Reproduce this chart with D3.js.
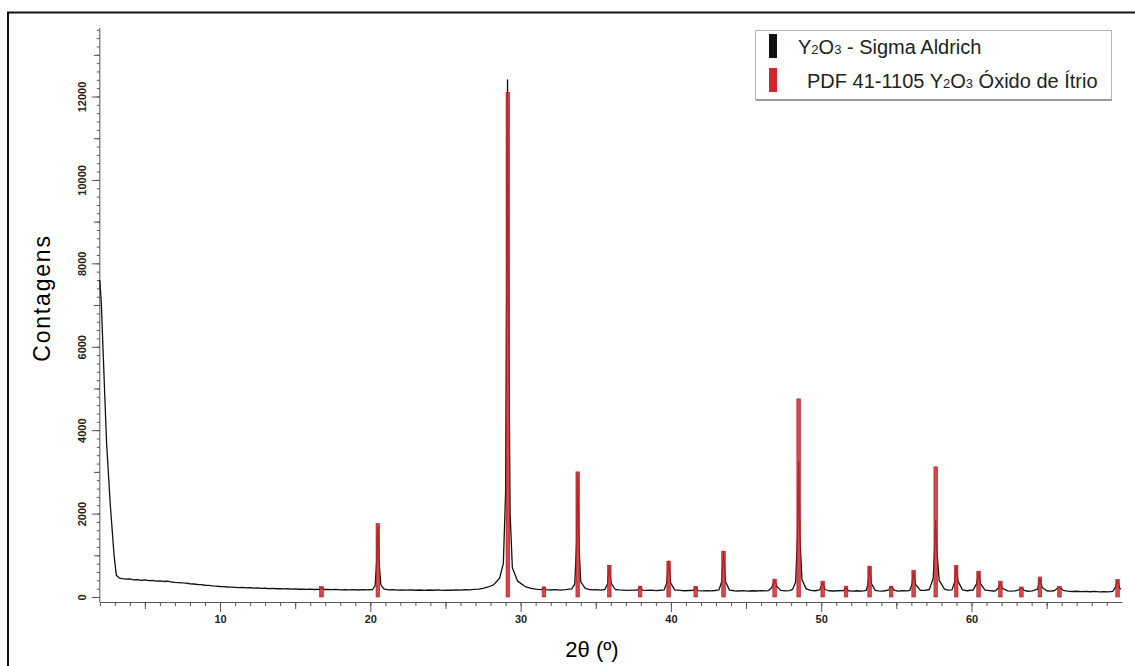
<!DOCTYPE html>
<html>
<head>
<meta charset="utf-8">
<script src="https://cdn.jsdelivr.net/npm/d3@7"></script>
<style>
  body { margin: 0; background: #fff; }
  svg { display: block; font-family: "Liberation Sans", Arial, sans-serif; }
</style>
</head>
<body>
<svg width="1135" height="666"></svg>
<script>
var measured = [
  [2.0,7600],[2.1,7050],[2.25,5600],[2.45,3700],[2.7,2200],[2.95,1000],[3.1,520],[3.3,455],
  [3.5,440],[3.75,428],[4.0,432],[4.25,412],[4.5,418],[4.75,400],[5.0,408],[5.25,392],[5.5,398],
  [5.75,380],[6.0,388],[6.25,372],[6.5,378],[6.75,360],[7.0,352],[7.25,346],[7.5,338],[7.75,332],
  [8.0,318],[8.25,312],[8.5,300],[8.75,296],[9.0,282],[9.25,278],[9.5,268],[9.75,262],[10.0,252],
  [10.25,250],[10.5,240],[10.75,238],[11.0,232],[11.25,226],[11.5,230],[11.75,220],[12.0,222],
  [12.25,214],[12.5,218],[12.75,208],[13.0,210],[13.25,202],[13.5,206],[13.75,198],[14.0,200],
  [14.25,194],[14.5,198],[14.75,190],[15.0,194],[15.25,186],[15.5,190],[15.75,184],[16.0,188],
  [16.3,180],[16.6,185],[16.75,235],[16.9,180],[17.15,185],[17.4,176],[17.7,182],[18.0,172],
  [18.3,178],[18.6,170],[18.9,176],[19.2,168],[19.5,175],[19.8,170],[20.15,180],[20.32,270],
  [20.42,850],[20.5,1700],[20.58,850],[20.7,290],[20.9,195],[21.2,172],[21.5,178],[21.8,166],
  [22.1,172],[22.4,164],[22.7,170],[23.0,162],[23.3,168],[23.6,160],[23.9,168],[24.2,162],
  [24.5,170],[24.8,160],[25.1,166],[25.4,162],[25.7,170],[26.0,165],[26.3,174],[26.6,172],
  [26.9,182],[27.2,190],[27.5,208],[27.85,240],[28.2,290],[28.6,450],[28.85,800],[29.0,2500],
  [29.08,8000],[29.13,12400],[29.2,7000],[29.3,2000],[29.45,700],[29.8,380],[30.3,250],[30.7,205],
  [31.0,190],[31.2,182],[31.4,176],[31.55,235],[31.7,175],[32.0,168],[32.3,176],[32.6,166],
  [33.0,178],[33.4,195],[33.6,310],[33.72,1250],[33.8,2950],[33.88,1250],[34.0,360],[34.3,205],
  [34.55,180],[34.8,172],[35.05,178],[35.3,166],[35.6,180],[35.78,310],[35.9,740],[36.02,330],
  [36.3,180],[36.55,170],[36.8,165],[37.1,158],[37.4,166],[37.8,168],[37.95,245],[38.1,165],
  [38.4,158],[38.7,164],[39.0,155],[39.3,162],[39.55,172],[39.72,330],[39.85,860],[39.98,340],
  [40.25,170],[40.6,158],[40.9,150],[41.2,156],[41.5,158],[41.65,235],[41.8,155],[42.1,148],
  [42.4,155],[42.7,146],[42.95,156],[43.2,170],[43.37,360],[43.5,1080],[43.63,370],[43.9,165],
  [44.2,150],[44.5,144],[44.8,152],[45.1,142],[45.4,150],[45.7,144],[46.0,152],[46.3,148],
  [46.5,155],[46.7,220],[46.9,400],[47.05,250],[47.3,158],[47.6,146],[47.9,152],[48.1,185],
  [48.3,360],[48.42,1450],[48.5,3250],[48.58,1450],[48.72,420],[49.0,195],[49.3,160],[49.6,150],
  [49.9,170],[50.1,350],[50.25,180],[50.5,150],[50.8,144],[51.1,150],[51.5,155],[51.65,235],
  [51.8,150],[52.1,140],[52.4,150],[52.7,142],[53.0,160],[53.12,330],[53.22,720],[53.34,320],
  [53.6,160],[53.8,146],[54.0,140],[54.25,150],[54.5,170],[54.65,250],[54.85,165],[55.1,140],
  [55.4,150],[55.7,146],[55.9,160],[56.05,320],[56.15,610],[56.28,300],[56.6,160],[56.9,158],
  [57.2,180],[57.45,450],[57.55,1200],[57.62,1830],[57.7,1100],[57.85,400],[58.2,190],[58.45,165],
  [58.7,170],[58.88,360],[58.98,730],[59.1,380],[59.4,170],[59.7,150],[59.95,162],[60.1,165],
  [60.35,320],[60.47,600],[60.6,320],[60.9,165],[61.2,155],[61.45,144],[61.6,150],[61.8,220],
  [61.92,350],[62.05,210],[62.4,145],[62.6,140],[62.9,148],[63.2,175],[63.32,225],[63.5,160],
  [63.75,138],[64.05,148],[64.4,190],[64.55,440],[64.7,230],[65.0,150],[65.25,140],[65.5,150],
  [65.85,240],[66.1,160],[66.4,140],[66.7,132],[67.0,138],[67.3,128],[67.6,136],[67.9,126],
  [68.2,134],[68.5,124],[68.8,130],[69.1,124],[69.4,136],[69.6,250],[69.72,400],[69.85,210],
  [69.95,190]
];

// PDF 41-1105 reference lines
var stickTheta = [16.75, 20.5, 29.15, 31.55, 33.8, 35.9, 37.95, 39.85, 41.65, 43.5, 46.9, 48.5,
  50.1, 51.65, 53.22, 54.65, 56.15, 57.62, 58.98, 60.47, 61.92, 63.32, 64.55, 65.85, 69.72];
var stickCounts = [250, 1760, 12100, 240, 3000, 760, 260, 860, 250, 1100, 430, 4750,
  380, 260, 740, 260, 640, 3120, 760, 620, 380, 240, 480, 250, 420];

var yLabelTicks = [0, 2000, 4000, 6000, 8000, 10000, 12000];
var xLabelTicks = [10, 20, 30, 40, 50, 60];

var svg = d3.select("svg");

var x = d3.scaleLinear().domain([2, 70]).range([99.8, 1121.8]);
var y = d3.scaleLinear().domain([0, 12000]).range([597, 96.5]);
var yTop = 13650;
var xAxisY = 602;

// frame
svg.append("rect")
    .attr("x", 8).attr("y", 12.5)
    .attr("width", 1140).attr("height", 700)
    .attr("fill", "#fff")
    .attr("stroke", "#111")
    .attr("stroke-width", 2);

// y axis: three tick layers
var yMinor = d3.range(0, yTop, 200);
var yMid = d3.range(1000, yTop, 2000);

var gy = svg.append("g").attr("transform", "translate(99.8,0)");
gy.append("g").call(d3.axisLeft(y).tickValues(yMinor).tickSize(3).tickFormat(""));
gy.append("g").call(d3.axisLeft(y).tickValues(yMid).tickSize(6).tickFormat(""));
var gyMajor = gy.append("g").call(d3.axisLeft(y).tickValues(yLabelTicks).tickSize(8).tickFormat(d3.format("d")));
gy.selectAll(".domain").remove();
gyMajor.selectAll("text")
    .attr("transform", "rotate(-90)")
    .attr("x", 0)
    .attr("y", -14)
    .attr("dy", 0)
    .attr("text-anchor", "middle")
    .style("font-size", "11px")
    .style("font-weight", "bold")
    .attr("fill", "#222");
gy.append("line")
    .attr("x1", 0).attr("x2", 0)
    .attr("y1", y(yTop)).attr("y2", xAxisY)
    .attr("stroke", "#555");

// x axis
var gx = svg.append("g").attr("transform", "translate(0," + xAxisY + ")");
gx.append("g").call(d3.axisBottom(x).tickValues(d3.range(2, 70)).tickSize(4).tickFormat("").tickSizeOuter(0));
gx.append("g").call(d3.axisBottom(x).tickValues([5, 15, 25, 35, 45, 55, 65]).tickSize(7).tickFormat("").tickSizeOuter(0));
gx.append("g").call(d3.axisBottom(x).tickValues(xLabelTicks).tickSize(10).tickPadding(3).tickSizeOuter(0))
  .selectAll("text")
    .style("font-size", "11px")
    .style("font-weight", "bold")
    .attr("fill", "#222");
gx.selectAll(".domain").attr("stroke", "#555");
svg.selectAll(".tick line").attr("stroke", "#555");

// measured line
var line = d3.line()
    .x(function(d) { return x(d[0]); })
    .y(function(d) { return y(d[1]); });

svg.append("path")
    .datum(measured)
    .attr("fill", "none")
    .attr("stroke", "#111")
    .attr("stroke-width", 1.3)
    .attr("stroke-linejoin", "round")
    .attr("d", line);

// reference sticks
svg.append("g")
  .selectAll("rect")
  .data(stickTheta)
  .enter().append("rect")
    .attr("x", function(d) { return x(d) - 1.8; })
    .attr("width", 3.6)
    .attr("y", function(d, i) { return y(stickCounts[i]); })
    .attr("height", function(d, i) { return y(0) - y(stickCounts[i]); })
    .attr("fill", "#d3262c")
    .attr("fill-opacity", 0.85)
    .attr("stroke", "#a3181c")
    .attr("stroke-width", 0.6);

// axis titles
svg.append("text")
    .attr("transform", "translate(50,298) rotate(-90)")
    .attr("text-anchor", "middle")
    .style("font-size", "23px")
    .style("letter-spacing", "1.8px")
    .text("Contagens");

svg.append("text")
    .attr("x", 592).attr("y", 657)
    .attr("text-anchor", "middle")
    .style("font-size", "22px")
    .text("2θ (º)");

// legend
var lg = svg.append("g");
lg.append("rect")
    .attr("x", 755.5).attr("y", 30.5)
    .attr("width", 356).attr("height", 69)
    .attr("fill", "#fff")
    .attr("stroke", "#b5b5b5");
lg.append("line")
    .attr("x1", 756).attr("x2", 1112)
    .attr("y1", 100).attr("y2", 100)
    .attr("stroke", "#9a9a9a").attr("stroke-width", 2);

var legendNames = [
  [["Y", 0], ["2", 1], ["O", 0], ["3", 1], [" - Sigma Aldrich", 0]],
  [["PDF 41-1105 Y", 0], ["2", 1], ["O", 0], ["3", 1], [" Óxido de Ítrio", 0]]
];
var legendColors = ["#111", "#d3262c"];
var legendX = [798, 807];

legendNames.forEach(function(parts, i) {
  var cy = 46 + i * 34;
  lg.append("rect")
      .attr("x", 769).attr("y", cy - 12)
      .attr("width", 8).attr("height", 24)
      .attr("fill", legendColors[i]);
  var t = lg.append("text")
      .attr("x", legendX[i]).attr("y", cy + 8)
      .style("font-size", "20px")
      .attr("fill", "#222");
  parts.forEach(function(p) {
    t.append("tspan")
        .style("font-size", p[1] ? "13px" : "20px")
        .text(p[0]);
  });
});
</script>
</body>
</html>
